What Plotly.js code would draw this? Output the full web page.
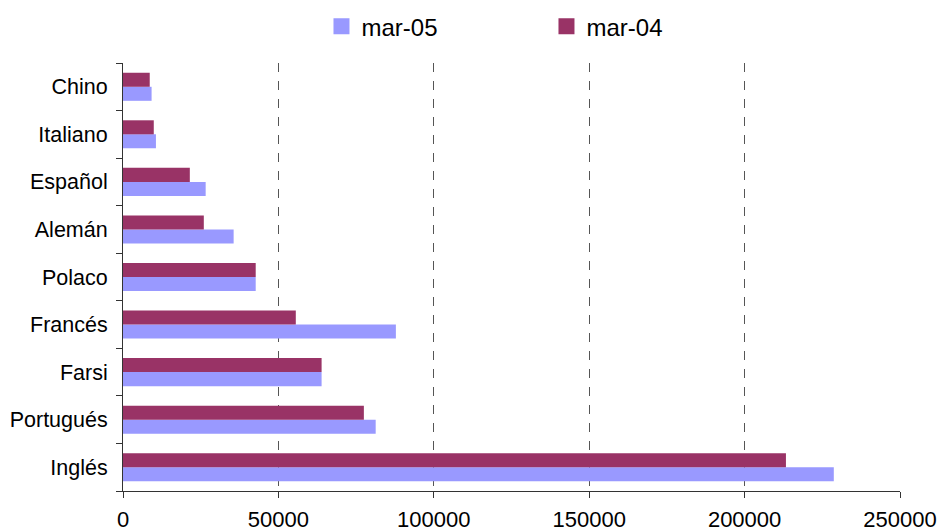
<!DOCTYPE html>
<html>
<head>
<meta charset="utf-8">
<script src="https://cdn.plot.ly/plotly-3.0.1.min.js"></script>
<style>html,body{margin:0;padding:0;background:#fff;}#chart{width:940px;height:532px;}</style>
</head>
<body>
<div id="chart"></div>
<script>
const categories = ["Inglés", "Portugués", "Farsi", "Francés", "Polaco", "Alemán", "Español", "Italiano", "Chino"];
const seriesNames = ["mar-05", "mar-04"];
const mar05 = [228700, 81300, 63900, 87800, 42700, 35600, 26600, 10600, 9200];
const mar04 = [213300, 77500, 63900, 55600, 42700, 26000, 21500, 9900, 8600];
const xTicks = [0, 50000, 100000, 150000, 200000, 250000];

const font = "Liberation Sans, Arial, sans-serif";
const colors = ["#9999FF", "#993366"];

const data = [
  {type: "bar", orientation: "h", name: seriesNames[0], y: categories, x: mar05,
   marker: {color: colors[0]}, showlegend: false, legendgroup: "a"},
  {type: "bar", orientation: "h", name: seriesNames[1], y: categories, x: mar04,
   marker: {color: colors[1]}, showlegend: false, legendgroup: "b"},
  {type: "scatter", mode: "markers", name: seriesNames[0], x: [null], y: [null],
   marker: {symbol: "square", size: 16, color: colors[0]}, legendgroup: "a"},
  {type: "scatter", mode: "markers", name: seriesNames[1], x: [null], y: [null],
   marker: {symbol: "square", size: 16, color: colors[1]}, legendgroup: "b"}
];

const layout = {
  width: 940, height: 532,
  margin: {l: 123, r: 40, t: 63, b: 41},
  paper_bgcolor: "#fff", plot_bgcolor: "#fff",
  font: {family: font, color: "#000", size: 21},
  barmode: "group", bargap: 0.41, bargroupgap: 0,
  showlegend: true,
  legend: {orientation: "h", xref: "container", yref: "container",
           x: 0.342, xanchor: "left", y: 0.95, yanchor: "middle",
           entrywidth: 180, entrywidthmode: "pixels", itemsizing: "trace",
           font: {size: 24, family: font}, traceorder: "normal"},
  xaxis: {range: [0, 250000], tickvals: xTicks, ticktext: xTicks.map(String),
          showgrid: true, gridcolor: "#555", griddash: "dash", gridwidth: 1,
          showline: true, linecolor: "#333", linewidth: 1,
          ticks: "outside", ticklen: 6, tickcolor: "#333",
          zeroline: false, tickfont: {size: 22}, ticklabelstandoff: 3, fixedrange: true},
  yaxis: {type: "category", categoryorder: "array", categoryarray: categories,
          showline: true, linecolor: "#333", linewidth: 1,
          ticks: "outside", ticklen: 6, tickcolor: "#333", tickson: "boundaries",
          showgrid: false, zeroline: false, tickfont: {size: 21.5},
          ticklabelstandoff: 10, fixedrange: true}
};

Plotly.newPlot("chart", data, layout, {displayModeBar: false, staticPlot: true});
</script>
</body>
</html>
